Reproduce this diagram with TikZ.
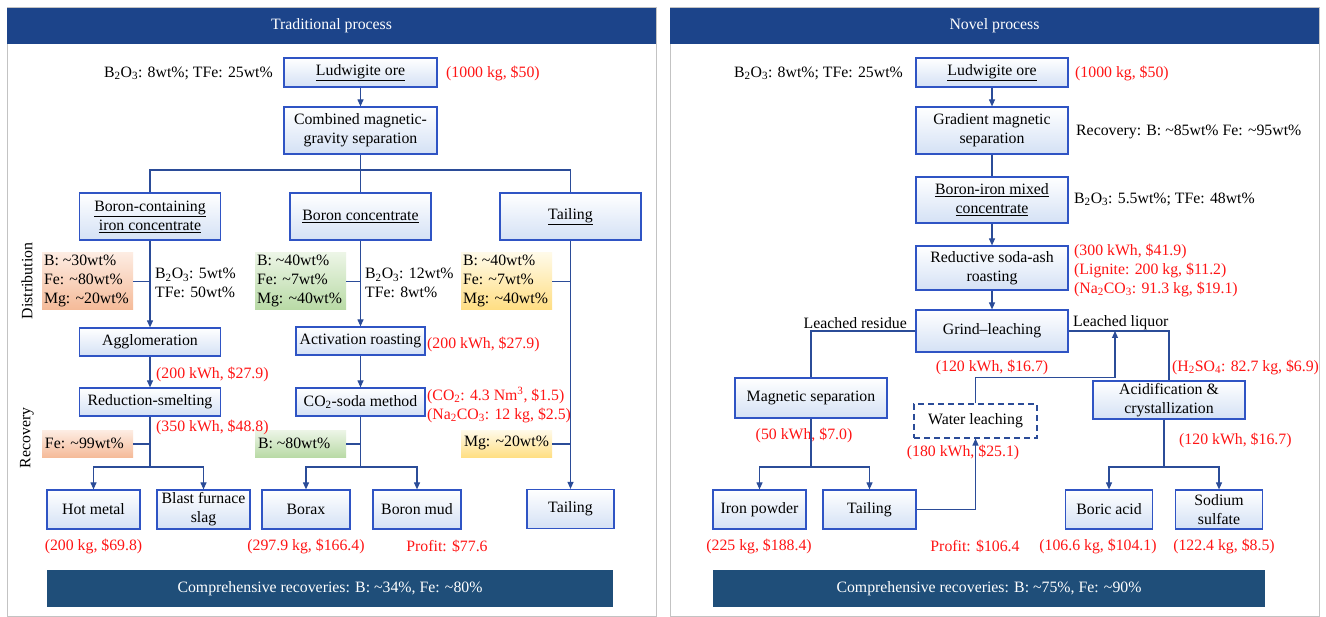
\documentclass[tikz,border=0pt]{standalone}
\usepackage{fontspec}
\setmainfont{Liberation Serif}
\usetikzlibrary{arrows.meta,calc}
\definecolor{titleblue}{RGB}{28,68,138}
\definecolor{bannerblue}{RGB}{31,78,121}
\definecolor{boxblue}{RGB}{47,84,196}
\definecolor{boxfill}{RGB}{212,225,245}
\definecolor{lineblue}{RGB}{43,76,152}
\definecolor{panelgray}{RGB}{195,195,195}
\definecolor{redtxt}{RGB}{255,20,20}
\definecolor{orTop}{RGB}{253,236,226}
\definecolor{orBot}{RGB}{245,186,152}
\definecolor{grTop}{RGB}{236,245,230}
\definecolor{grBot}{RGB}{184,218,165}
\definecolor{yeTop}{RGB}{255,250,232}
\definecolor{yeBot}{RGB}{255,222,130}
\newcommand\myBO{B\textsubscript{2}O\textsubscript{3}}
\newcommand\mytl{\textasciitilde}
\tikzset{
  proc/.style={draw=boxblue, line width=1.2pt, top color=white, bottom color=boxfill, align=center, inner sep=1pt},
  conn/.style={draw=lineblue, line width=1.1pt},
  arr/.style={conn, -{Triangle[length=7pt,width=6pt]}},
  txt/.style={inner sep=0pt, align=left},
  rtxt/.style={txt, text=redtxt},
  dist/.style={inner sep=0pt, minimum width=91pt},
  orbox/.style={dist, top color=orTop, bottom color=orBot},
  grbox/.style={dist, top color=grTop, bottom color=grBot},
  yebox/.style={dist, top color=yeTop, bottom color=yeBot},
  bar/.style={fill=titleblue, text=white, inner sep=0pt},
  banner/.style={fill=bannerblue, text=white, inner sep=0pt}
}
\begin{document}
\begin{tikzpicture}[x=1pt,y=-1pt, font=\fontsize{15.8}{19}\selectfont]
\useasboundingbox (0,0) rectangle (1326,617);
\fill[white] (0,0) rectangle (1326,617);
% panels
\draw[panelgray, line width=1pt] (7,8) rectangle (656,616);
\draw[panelgray, line width=1pt] (670,8) rectangle (1319,616);
\node[bar, minimum width=649pt, minimum height=36pt] (t1) at (331.5,26) {Traditional process};
\node[bar, minimum width=649pt, minimum height=36pt] (t2) at (994.5,26) {Novel process};

% ================= LEFT =================
\node[proc, minimum width=153pt, minimum height=29pt] (ore) at (360.5,72.5) {\underline{Ludwigite ore}};
\node[txt, anchor=east] (oreL) at (273,73) {\myBO: 8wt\%; TFe: 25wt\%};
\node[rtxt, anchor=west] (oreR) at (446,73) {(1000 kg, \$50)};
\node[proc, minimum width=153pt, minimum height=47pt] (sep1) at (360.5,130.5) {Combined magnetic-\\gravity separation};
\draw[arr] (ore.south) -- (sep1.north);

\node[proc, minimum width=141pt, minimum height=47pt] (bic) at (150,216.5) {\underline{Boron-containing}\\\underline{iron concentrate}};
\node[proc, minimum width=141pt, minimum height=47pt] (bc) at (360.5,216.5) {\underline{Boron concentrate}};
\node[proc, minimum width=141pt, minimum height=47pt] (tail1) at (570.5,216.5) {\underline{Tailing}};
\coordinate (br1) at (360.5,170);
\draw[conn] (sep1.south) -- (br1);
\draw[conn] (bic.north) |- (br1) -| (tail1.north);
\draw[conn] (br1) -- (bc.north);

\node[orbox, minimum height=57pt] (d1) at (87.5,281.5) {};
\node[grbox, minimum height=57pt] (d2) at (300.5,281.5) {};
\node[yebox, minimum height=57pt] (d3) at (506.5,281.5) {};
\node[txt, anchor=west] (d1t) at ([xshift=2pt,yshift=1pt]d1.west) {B: \mytl 30wt\%\\Fe: \mytl 80wt\%\\Mg: \mytl 20wt\%};
\node[txt, anchor=west] (d2t) at ([xshift=2pt,yshift=1pt]d2.west) {B: \mytl 40wt\%\\Fe: \mytl 7wt\%\\Mg: \mytl 40wt\%};
\node[txt, anchor=west] (d3t) at ([xshift=2pt,yshift=1pt]d3.west) {B: \mytl 40wt\%\\Fe: \mytl 7wt\%\\Mg: \mytl 40wt\%};
\node[txt, anchor=west] (c1) at (155,283) {\myBO: 5wt\%\\TFe: 50wt\%};
\node[txt, anchor=west] (c2) at (365,283) {\myBO: 12wt\%\\TFe: 8wt\%};

\node[proc, minimum width=141pt, minimum height=28pt] (agg) at (150,342) {Agglomeration};
\node[proc, minimum width=129pt, minimum height=28pt] (actr) at (360.5,341) {Activation roasting};
\draw[arr] (bic.south) -- (agg.north);
\draw[arr] (bc.south) -- (actr.north);
\draw[conn] (d1.east) -- (d1.east -| bic.south);
\draw[conn] (d2.east) -- (d2.east -| bc.south);
\draw[conn] (d3.east) -- (d3.east -| tail1.south);
\node[rtxt, anchor=west] (e1) at (427,344) {(200 kWh, \$27.9)};
\node[rtxt, anchor=west] (e2) at (156,374) {(200 kWh, \$27.9)};

\node[proc, minimum width=141pt, minimum height=28pt] (redsm) at (150,402) {Reduction-smelting};
\node[proc, minimum width=129pt, minimum height=28pt] (co2) at (360.5,402) {CO\textsubscript{2}-soda method};
\draw[arr] (agg.south) -- (redsm.north);
\draw[arr] (actr.south) -- (co2.north);
\node[rtxt, anchor=west] (e3) at (427,405) {(CO\textsubscript{2}: 4.3 Nm\textsuperscript{3}, \$1.5)\\(Na\textsubscript{2}CO\textsubscript{3}: 12 kg, \$2.5)};

\node[orbox, minimum height=27pt] (r1) at (87.5,444) {};
\node[grbox, minimum height=27pt] (r2) at (300.5,444) {};
\node[yebox, minimum height=27pt] (r3) at (506.5,444) {};
\node[txt, anchor=west] (r1t) at ([xshift=3pt,yshift=1pt]r1.west) {Fe: \mytl 99wt\%};
\node[txt, anchor=west] (r2t) at ([xshift=3pt,yshift=1pt]r2.west) {B: \mytl 80wt\%};
\node[txt, anchor=west] (r3t) at ([xshift=3pt,yshift=1pt]r3.west) {Mg: \mytl 20wt\%};
\node[rtxt, anchor=west] (e4) at (156,427) {(350 kWh, \$48.8)};

\node[proc, minimum width=93pt, minimum height=39pt] (hot) at (93.5,509.5) {Hot metal};
\node[proc, minimum width=93pt, minimum height=39pt] (bfs) at (203.5,509.5) {Blast furnace\\slag};
\node[proc, minimum width=88pt, minimum height=39pt] (borax) at (306,509.5) {Borax};
\node[proc, minimum width=88pt, minimum height=39pt] (bmud) at (417,509.5) {Boron mud};
\node[proc, minimum width=87pt, minimum height=39pt] (tail2) at (570.5,509) {Tailing};

\coordinate (b1) at (150,467);
\coordinate (b2) at (360.5,467);
\draw[conn] (redsm.south) -- (b1);
\draw[arr] (b1) -| (hot.north);
\draw[arr] (b1) -| (bfs.north);
\draw[conn] (co2.south) -- (b2);
\draw[arr] (b2) -| (borax.north);
\draw[arr] (b2) -| (bmud.north);
\draw[arr] (tail1.south) -- (tail2.north);
\draw[conn] (r1.east) -- (r1.east -| b1);
\draw[conn] (r2.east) -- (r2.east -| b2);
\draw[conn] (r3.east) -- (r3.east -| tail1.south);

\node[rtxt] (p1) at (93.5,546) {(200 kg, \$69.8)};
\node[rtxt] (p2) at (306,546) {(297.9 kg, \$166.4)};
\node[rtxt] (p3) at (447,546) {Profit: \$77.6};
\node[banner, minimum width=566pt, minimum height=37pt] (bn1) at (330,588.5) {Comprehensive recoveries: B: \mytl 34\%, Fe: \mytl 80\%};

\node[txt, rotate=90] (distl) at (27,281) {Distribution};
\node[txt, rotate=90] (recl) at (27,438) {Recovery};

% ================= RIGHT =================
\node[proc, minimum width=152pt, minimum height=29pt] (ore2) at (992,72.5) {\underline{Ludwigite ore}};
\node[txt, anchor=east] (ore2L) at (903,73) {\myBO: 8wt\%; TFe: 25wt\%};
\node[rtxt, anchor=west] (ore2R) at (1075,73) {(1000 kg, \$50)};
\node[proc, minimum width=152pt, minimum height=47pt] (gms) at (992,130.5) {Gradient magnetic\\separation};
\node[txt, anchor=west] (gmsR) at (1076,132) {Recovery: B: \mytl 85wt\% Fe: \mytl 95wt\%};
\draw[arr] (ore2.south) -- (gms.north);
\node[proc, minimum width=152pt, minimum height=46pt] (bim) at (992,200) {\underline{Boron-iron mixed}\\\underline{concentrate}};
\node[txt, anchor=west] (bimR) at (1074,199) {\myBO: 5.5wt\%; TFe: 48wt\%};
\draw[conn] (gms.south) -- (bim.north);
\node[proc, minimum width=152pt, minimum height=44pt] (rsr) at (992,268) {Reductive soda-ash\\roasting};
\draw[arr] (bim.south) -- (rsr.north);
\node[rtxt, anchor=west] (rsrR) at (1074,270) {(300 kWh, \$41.9)\\(Lignite: 200 kg, \$11.2)\\(Na\textsubscript{2}CO\textsubscript{3}: 91.3 kg, \$19.1)};
\node[proc, minimum width=152pt, minimum height=42pt] (grind) at (992,331) {Grind--leaching};
\draw[arr] (rsr.south) -- (grind.north);
\node[txt, anchor=east] (resl) at (907,323) {Leached residue};
\node[txt, anchor=west] (liql) at (1073,323) {Leached liquor};
\node[rtxt] (g1) at (992,367) {(120 kWh, \$16.7)};

\node[proc, minimum width=152pt, minimum height=40pt] (magsep) at (811,398) {Magnetic separation};
\draw[conn] (grind.west) -| (magsep.north);
\node[rtxt] (m1) at (804,435) {(50 kWh, \$7.0)};

\node[proc, minimum width=152pt, minimum height=38pt] (acid) at (1169,400) {Acidification \&\\crystallization};
\draw[conn] (grind.east) -| (acid.north);
\node[rtxt, anchor=west] (h1) at (1172,367) {(H\textsubscript{2}SO\textsubscript{4}: 82.7 kg, \$6.9)};
\node[rtxt, anchor=west] (a1) at (1179,440) {(120 kWh, \$16.7)};

\node[draw=lineblue, dash pattern=on 6pt off 4pt, line width=1.1pt, fill=white, minimum width=123pt, minimum height=34pt, inner sep=1pt] (water) at (975.5,421) {Water leaching};
\node[rtxt] (w1) at (963,452) {(180 kWh, \$25.1)};

\node[proc, minimum width=93pt, minimum height=39pt] (ironp) at (759.5,509.5) {Iron powder};
\node[proc, minimum width=93pt, minimum height=39pt] (tail3) at (869.5,509.5) {Tailing};
\node[proc, minimum width=87pt, minimum height=39pt] (boric) at (1109,509.5) {Boric acid};
\node[proc, minimum width=87pt, minimum height=39pt] (sodium) at (1219,509.5) {Sodium\\sulfate};

\coordinate (b3) at (811,467);
\draw[conn] (magsep.south) -- (b3);
\draw[arr] (b3) -| (ironp.north);
\draw[arr] (b3) -| (tail3.north);
\coordinate (b4) at (1164,467);
\draw[conn] (acid.south -| b4) -- (b4);
\draw[arr] (b4) -| (boric.north);
\draw[arr] (b4) -| (sodium.north);

\draw[arr] (tail3.east) -| (water.south);
\coordinate (liq) at (1115,331);
\draw[arr] (water.north) -- ++(0,-26) -| (liq);

\node[rtxt] (q1) at (759,546) {(225 kg, \$188.4)};
\node[rtxt] (q2) at (975,546) {Profit: \$106.4};
\node[rtxt] (q3) at (1098,546) {(106.6 kg, \$104.1)};
\node[rtxt] (q4) at (1224,546) {(122.4 kg, \$8.5)};
\node[banner, minimum width=552pt, minimum height=37pt] (bn2) at (989,588.5) {Comprehensive recoveries: B: \mytl 75\%, Fe: \mytl 90\%};
\end{tikzpicture}
\end{document}
